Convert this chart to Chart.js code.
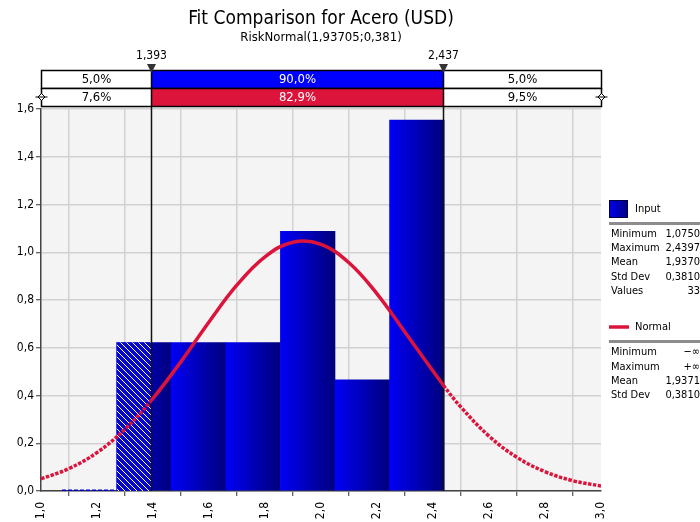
<!DOCTYPE html>
<html>
<head>
  <script src="https://cdn.jsdelivr.net/npm/chart.js@4.4.1/dist/chart.umd.min.js"></script>
  <style>
    body { margin: 0; background: #fff; }
    #box { width: 700px; height: 522px; position: relative; }
  </style>
</head>
<body>

<div id="box"><canvas id="fitChart"></canvas></div>

<script>
// histogram of the input (density), bin edges and heights
var binEdges = [1.075, 1.270, 1.465, 1.660, 1.855, 2.050, 2.245, 2.4397];
var binDensity = [0, 0.622, 0.622, 0.622, 1.088, 0.466, 1.554];

// fitted normal curve
var fitX = [1.0, 1.1, 1.2, 1.3, 1.393, 1.5, 1.6, 1.7, 1.8, 1.9, 2.0, 2.1, 2.2, 2.3, 2.437, 2.5, 2.6, 2.7, 2.8, 2.9, 3.0];
var fitY = [0.051, 0.094, 0.161, 0.259, 0.378, 0.542, 0.708, 0.863, 0.981, 1.042, 1.033, 0.956, 0.826, 0.665, 0.443, 0.351, 0.230, 0.141, 0.081, 0.043, 0.021];

var leftCut = 1.393;
var rightCut = 2.437;
var cutLabels = ["1,393", "2,437"];
var inputRow = ["5,0%", "90,0%", "5,0%"];
var normalRow = ["7,6%", "82,9%", "9,5%"];

var inputStats = [["Minimum", "1,0750"], ["Maximum", "2,4397"], ["Mean", "1,9370"], ["Std Dev", "0,3810"], ["Values", "33"]];
var normalStats = [["Minimum", "\u2212\u221e"], ["Maximum", "+\u221e"], ["Mean", "1,9371"], ["Std Dev", "0,3810"]];

var FONT = "Tahoma, 'DejaVu Sans Condensed', 'Liberation Sans', sans-serif";
var RED = "#dc143c";

var binCenters = [];
for (var i = 0; i < binDensity.length; i++) {
  binCenters.push({ x: (binEdges[i] + binEdges[i + 1]) / 2, y: binDensity[i] });
}
var fitPoints = fitX.map(function(x, i) { return { x: x, y: fitY[i] }; });

// white diagonal hatch for the part of the histogram left of the cut
var pc = document.createElement("canvas");
pc.width = 6; pc.height = 6;
var p = pc.getContext("2d");
p.fillStyle = "#0808c8";
p.fillRect(0, 0, 6, 6);
p.strokeStyle = "#ffffff";
p.lineWidth = 1;
p.beginPath();
p.moveTo(-1, -1); p.lineTo(7, 7);
p.moveTo(-1, 5); p.lineTo(1, 7);
p.moveTo(5, -1); p.lineTo(7, 1);
p.stroke();
var hatch = p.createPattern(pc, "repeat");

function comma(v, d) { return v.toFixed(d).replace(".", ","); }

var decorPlugin = {
  id: "decor",
  beforeDraw: function(chart) {
    var a = chart.chartArea, c = chart.ctx;
    c.save();
    c.fillStyle = "#f4f4f4";
    c.fillRect(a.left, a.top - 2, a.right - a.left, a.bottom - a.top + 2);
    c.restore();
  },
  afterDatasetDraw: function(chart, args) {
    if (args.index !== 1) return;
    var a = chart.chartArea, c = chart.ctx, xs = chart.scales.x;
    c.save();
    c.strokeStyle = "#111";
    c.lineWidth = 1.5;
    [leftCut, rightCut].forEach(function(v) {
      var px = Math.round(xs.getPixelForValue(v)) + 0.5;
      c.beginPath(); c.moveTo(px, 70); c.lineTo(px, a.bottom); c.stroke();
    });
    c.restore();
  },
  afterDraw: function(chart) {
    var a = chart.chartArea, c = chart.ctx, xs = chart.scales.x;
    var xl = Math.round(xs.getPixelForValue(leftCut)) + 0.5;
    var xr = Math.round(xs.getPixelForValue(rightCut)) + 0.5;
    var L = a.left + 0.5, R = a.right + 0.5;
    c.save();
    c.textAlign = "center";
    c.textBaseline = "middle";
    c.fillStyle = "#000";
    c.font = "19px " + FONT;
    c.fillText("Fit Comparison for Acero (USD)", (a.left + a.right) / 2, 19);
    c.font = "13px " + FONT;
    c.fillText("RiskNormal(1,93705;0,381)", (a.left + a.right) / 2, 38);
    c.font = "12px " + FONT;
    c.fillText(cutLabels[0], xl, 56);
    c.fillText(cutLabels[1], xr, 56);

    // percentage bands
    var rows = [[70, 88, inputRow, "#0000ff"], [88, 106, normalRow, RED]];
    rows.forEach(function(r) {
      var y0 = r[0] + 0.5, y1 = r[1] + 0.5;
      c.fillStyle = "#fff";
      c.fillRect(L, y0, R - L, y1 - y0);
      c.fillStyle = r[3];
      c.fillRect(xl, y0, xr - xl, y1 - y0);
      c.strokeStyle = "#000";
      c.lineWidth = 1.5;
      c.strokeRect(L, y0, R - L, y1 - y0);
      c.beginPath();
      c.moveTo(xl, y0); c.lineTo(xl, y1);
      c.moveTo(xr, y0); c.lineTo(xr, y1);
      c.stroke();
      c.font = "13px " + FONT;
      var ym = (y0 + y1) / 2 + 0.5;
      c.fillStyle = "#000";
      c.fillText(r[2][0], (L + xl) / 2, ym);
      c.fillText(r[2][2], (xr + R) / 2, ym);
      c.fillStyle = "#fff";
      c.fillText(r[2][1], (xl + xr) / 2, ym);
    });

    // little diamonds on the ends of the normal row
    [L, R].forEach(function(x) {
      c.fillStyle = "#fff";
      c.strokeStyle = "#000";
      c.lineWidth = 1;
      c.beginPath();
      c.moveTo(x - 3.5, 97); c.lineTo(x, 93.5); c.lineTo(x + 3.5, 97); c.lineTo(x, 100.5); c.closePath();
      c.fill(); c.stroke();
      c.beginPath();
      c.moveTo(x - 6, 97); c.lineTo(x + 6, 97); c.stroke();
    });

    // cut markers
    [xl, xr].forEach(function(x) {
      c.fillStyle = "#333";
      c.beginPath();
      c.moveTo(x - 4.5, 64); c.lineTo(x + 4.5, 64); c.lineTo(x, 73); c.closePath();
      c.fill();
    });

    // legend and statistics
    var g = c.createLinearGradient(609, 0, 628, 0);
    g.addColorStop(0, "#0000f0"); g.addColorStop(1, "#000080");
    c.fillStyle = g;
    c.fillRect(609, 200, 19, 18);
    c.strokeStyle = "#000040";
    c.lineWidth = 1;
    c.strokeRect(609.5, 200.5, 18, 17);
    c.textAlign = "left";
    c.fillStyle = "#000";
    c.font = "11px " + FONT;
    c.fillText("Input", 635, 209);
    c.fillText("Normal", 635, 327);
    c.strokeStyle = RED;
    c.lineWidth = 3.5;
    c.beginPath(); c.moveTo(609, 327); c.lineTo(629, 327); c.stroke();

    c.fillStyle = "#8c8c8c";
    c.fillRect(609, 222, 91, 3);
    c.fillRect(609, 340, 91, 3);

    c.fillStyle = "#000";
    inputStats.forEach(function(s, i) {
      var y = 234 + i * 14.3;
      c.textAlign = "left"; c.fillText(s[0], 611, y);
      c.textAlign = "right"; c.fillText(s[1], 700, y);
    });
    normalStats.forEach(function(s, i) {
      var y = 352.5 + i * 14.3;
      c.textAlign = "left"; c.fillText(s[0], 611, y);
      c.textAlign = "right"; c.fillText(s[1], 700, y);
    });
    c.restore();
  }
};

var ctx = document.getElementById("fitChart").getContext("2d");
var fitChart = new Chart(ctx, {
  type: "bar",
  data: {
    datasets: [{
      type: "line",
      label: "Normal",
      data: fitPoints,
      borderColor: RED,
      borderWidth: 3.5,
      pointRadius: 0,
      tension: 0.4,
      fill: false,
      order: 0,
      segment: {
        borderDash: function(s) {
          return (s.p0.parsed.x < leftCut - 1e-6 || s.p1.parsed.x > rightCut + 1e-6) ? [3.5, 1.5] : undefined;
        }
      }
    }, {
      type: "line",
      label: "hatch",
      data: [{ x: binEdges[1], y: binDensity[1] }, { x: leftCut, y: binDensity[1] }],
      borderWidth: 0,
      pointRadius: 0,
      backgroundColor: hatch,
      fill: "origin",
      order: 1
    }, {
      type: "line",
      label: "empty bin",
      data: [{ x: binEdges[0], y: 0 }, { x: binEdges[1], y: 0 }],
      borderColor: "#0000c8",
      borderWidth: 3,
      borderDash: [4, 2],
      pointRadius: 0,
      fill: false,
      order: 2
    }, {
      type: "bar",
      label: "Input",
      data: binCenters,
      barPercentage: 1,
      categoryPercentage: 1,
      borderWidth: 0,
      order: 3,
      backgroundColor: function(c) {
        var xs = c.chart.scales.x;
        if (c.type !== "data" || !xs) return "#0000d0";
        var x0 = xs.getPixelForValue(binEdges[c.dataIndex]);
        var x1 = xs.getPixelForValue(binEdges[c.dataIndex + 1]);
        if (!isFinite(x0) || !isFinite(x1) || x1 <= x0) return "#0000d0";
        var g = c.chart.ctx.createLinearGradient(x0, 0, x1, 0);
        g.addColorStop(0, "#0000f5");
        g.addColorStop(1, "#00007c");
        return g;
      }
    }]
  },
  options: {
    responsive: true,
    maintainAspectRatio: false,
    animation: false,
    layout: { padding: { top: 109, right: 99, left: 0, bottom: 0 } },
    plugins: {
      legend: { display: false },
      title: { display: false },
      tooltip: { enabled: false }
    },
    scales: {
      x: {
        type: "linear",
        min: 1.0,
        max: 3.0,
        offset: false,
        afterFit: function(s) { s.height = 31; },
        ticks: {
          stepSize: 0.2,
          minRotation: 90,
          maxRotation: 90,
          padding: 6,
          color: "#000",
          font: { family: FONT, size: 12 },
          callback: function(v) { return comma(v, 1); }
        },
        grid: { color: "#d2d2d2", lineWidth: 1.5, tickLength: 5, tickColor: "#333", tickWidth: 1 },
        border: { color: "#444", width: 1.5 }
      },
      y: {
        min: 0,
        max: 1.6,
        afterFit: function(s) { s.width = 41; },
        ticks: {
          stepSize: 0.2,
          padding: 2,
          color: "#000",
          font: { family: FONT, size: 12 },
          callback: function(v) { return comma(v, 1); }
        },
        grid: { color: "#d2d2d2", lineWidth: 1.5, tickLength: 5, tickColor: "#333", tickWidth: 1 },
        border: { color: "#444", width: 1.5 }
      }
    }
  },
  plugins: [decorPlugin]
});
</script>

</body>
</html>
